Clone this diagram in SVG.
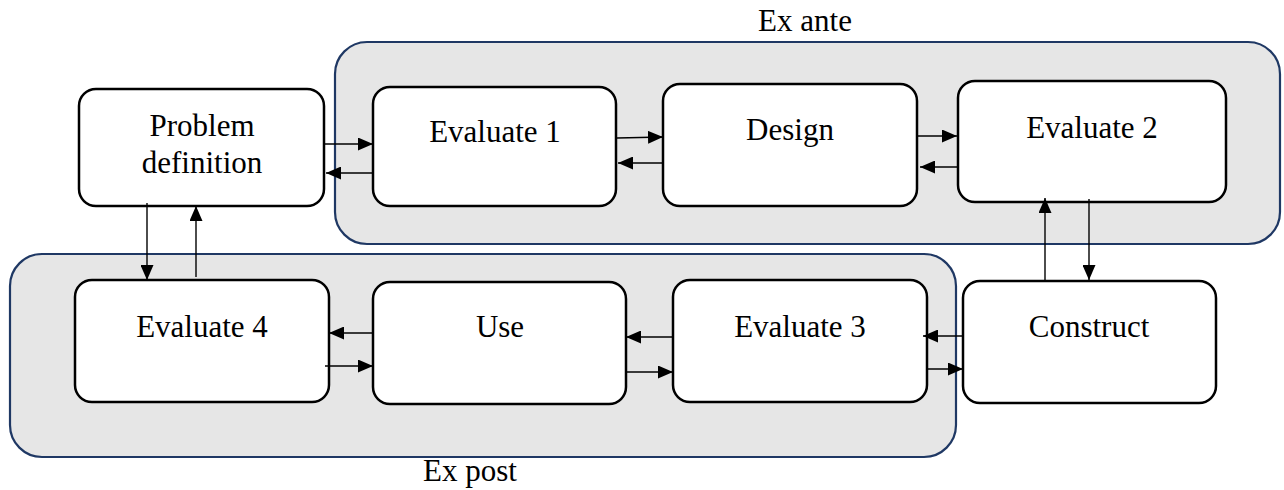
<svg xmlns="http://www.w3.org/2000/svg" width="1284" height="490" viewBox="0 0 1284 490" font-family="'Liberation Serif', 'Times New Roman', serif">
<style>
.grp{fill:#e6e6e6;stroke:#1f3864;stroke-width:2.2}
.box{fill:#fff;stroke:#000;stroke-width:2.5}
text{font-family:"Liberation Serif","Times New Roman",serif;font-size:31px;fill:#000;text-anchor:middle}
.c{stroke:#000;stroke-width:1.4;fill:none;marker-end:url(#ah)}
</style>
<defs>
<marker id="ah" viewBox="0 0 15 13" refX="15" refY="6.5" markerWidth="15" markerHeight="13" markerUnits="userSpaceOnUse" orient="auto">
<path d="M0,0 L15,6.5 L0,13 Z" fill="#000"/>
</marker>
</defs>
<rect width="1284" height="490" fill="#fff"/>
<g id="exante">
<rect class="grp" x="335" y="42" width="945" height="202" rx="32"/>
<text x="805" y="31" font-family="'Liberation Serif', serif">Ex ante</text>
</g>
<g id="expost">
<rect class="grp" x="10" y="254" width="946" height="203" rx="32"/>
<text x="470" y="481" font-family="'Liberation Serif', serif">Ex post</text>
</g>
<g id="problem">
<rect class="box" x="79" y="89" width="245" height="117" rx="17"/>
<text x="202" y="136" font-family="'Liberation Serif', serif">Problem</text>
<text x="202" y="173" font-family="'Liberation Serif', serif">definition</text>
</g>
<g id="evaluate1">
<rect class="box" x="373" y="87" width="243" height="119" rx="17"/>
<text x="495" y="142" font-family="'Liberation Serif', serif">Evaluate 1</text>
</g>
<g id="design">
<rect class="box" x="663" y="84" width="254" height="122" rx="17"/>
<text x="790" y="140" font-family="'Liberation Serif', serif">Design</text>
</g>
<g id="evaluate2">
<rect class="box" x="958" y="81" width="268" height="121" rx="17"/>
<text x="1092" y="138" font-family="'Liberation Serif', serif">Evaluate 2</text>
</g>
<g id="construct">
<rect class="box" x="963" y="281" width="253" height="122" rx="17"/>
<text x="1089" y="337" font-family="'Liberation Serif', serif">Construct</text>
</g>
<g id="evaluate3">
<rect class="box" x="673" y="280" width="254" height="122" rx="17"/>
<text x="800" y="337" font-family="'Liberation Serif', serif">Evaluate 3</text>
</g>
<g id="use">
<rect class="box" x="373" y="282" width="253" height="122" rx="17"/>
<text x="500" y="337" font-family="'Liberation Serif', serif">Use</text>
</g>
<g id="evaluate4">
<rect class="box" x="75" y="280" width="254" height="122" rx="17"/>
<text x="202" y="337" font-family="'Liberation Serif', serif">Evaluate 4</text>
</g>
<g id="connectors">
<line class="c" x1="324" y1="144" x2="373" y2="144"/>
<line class="c" x1="373" y1="173" x2="326" y2="173"/>
<line class="c" x1="617" y1="138" x2="663" y2="137"/>
<line class="c" x1="663" y1="163" x2="618" y2="163"/>
<line class="c" x1="918" y1="136" x2="957" y2="136"/>
<line class="c" x1="958" y1="167" x2="920" y2="167"/>
<line class="c" x1="1045" y1="281" x2="1045" y2="198"/>
<line class="c" x1="1089" y1="199" x2="1089" y2="280"/>
<line class="c" x1="963" y1="336" x2="923" y2="336"/>
<line class="c" x1="927" y1="369" x2="963" y2="369"/>
<line class="c" x1="673" y1="337" x2="626" y2="337"/>
<line class="c" x1="627" y1="372" x2="673" y2="372"/>
<line class="c" x1="373" y1="333" x2="329" y2="333"/>
<line class="c" x1="325" y1="366" x2="373" y2="366"/>
<line class="c" x1="147" y1="203" x2="147" y2="280"/>
<line class="c" x1="196" y1="277" x2="196" y2="206"/>
</g>
</svg>
